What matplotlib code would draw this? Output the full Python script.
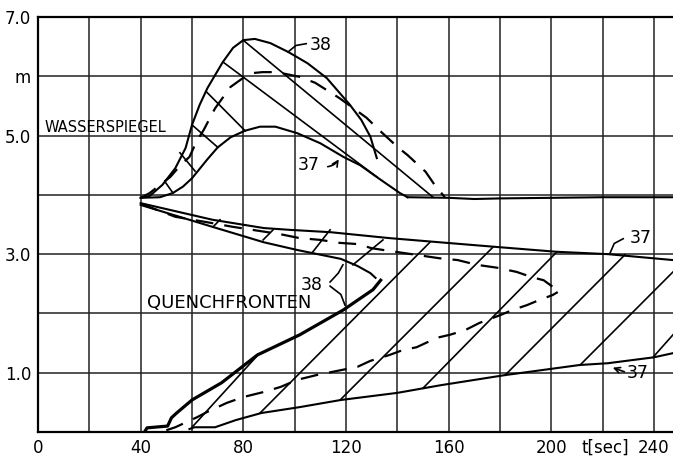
import matplotlib.pyplot as plt

# Wasserspiegel (water level) in m over t in s
t_ws38 = [40, 43.5, 48.5, 53.5, 57.5, 60, 63, 66, 69, 72, 76, 80, 84.5, 90.5, 97.5, 105, 112.5, 117.5, 121.5, 126, 129.5, 132]
h_ws38 = [3.95, 3.98, 4.17, 4.45, 4.79, 5.18, 5.52, 5.80, 6.02, 6.24, 6.48, 6.61, 6.63, 6.56, 6.41, 6.22, 5.97, 5.72, 5.52, 5.26, 4.98, 4.62]

t_ws37 = [40, 47.5, 52.5, 56.5, 60, 63, 66, 70, 75, 80.5, 86.5, 92.5, 101, 110, 119, 125.5, 132, 137, 141, 144]
h_ws37 = [3.95, 3.96, 4.03, 4.14, 4.28, 4.44, 4.60, 4.80, 4.97, 5.08, 5.15, 5.15, 5.04, 4.87, 4.64, 4.50, 4.30, 4.15, 4.03, 3.96]

t_ws_end = [144, 160, 170, 180, 200, 220, 247.4]
h_ws_end = [3.96, 3.95, 3.93, 3.94, 3.95, 3.96, 3.96]

t_ws_d = [40, 43.5, 48.5, 51.5, 55.5, 59, 62, 64.5, 68, 69, 73.5, 75, 80.5, 82.5, 87.5, 93, 102, 108, 117.5, 128, 133, 140, 144, 151, 154.5, 158.5]
h_ws_d = [3.95, 4.03, 4.20, 4.30, 4.50, 4.64, 4.92, 5.09, 5.38, 5.46, 5.73, 5.82, 5.99, 6.05, 6.07, 6.07, 5.99, 5.89, 5.63, 5.30, 5.09, 4.81, 4.67, 4.39, 4.17, 3.96]

# Quenchfronten: upper (falling) fronts
t_qo37 = [40, 68, 88, 98, 114, 137, 156.5, 179, 202, 222, 247.4]
h_qo37 = [3.86, 3.58, 3.44, 3.41, 3.37, 3.27, 3.20, 3.12, 3.04, 3.00, 2.90]

t_qo38 = [40, 68, 88, 101, 118, 124.5, 129.5, 131.5]
h_qo38 = [3.83, 3.46, 3.20, 3.07, 2.92, 2.80, 2.68, 2.60]

t_qo_d = [40, 53.5, 67, 76, 83.5, 94, 102, 110, 117.5, 124.5, 130, 134.5, 156.5, 163.5, 171, 179, 186.5, 192.5, 197, 200.5, 202.5]
h_qo_d = [3.85, 3.63, 3.53, 3.46, 3.41, 3.34, 3.27, 3.24, 3.19, 3.17, 3.10, 3.07, 2.93, 2.90, 2.82, 2.77, 2.70, 2.61, 2.56, 2.45, 2.36]

# lower (rising) fronts
t_qu38 = [41.5, 42.5, 50.5, 52, 54, 60, 71.5, 85.5, 102, 119, 130.5, 133.5]
h_qu38 = [0.00, 0.07, 0.10, 0.24, 0.32, 0.54, 0.83, 1.30, 1.64, 2.06, 2.40, 2.56]

t_qu37 = [59, 61, 69, 77, 87, 102, 118, 140, 157, 182, 211, 222, 240, 247.4]
h_qu37 = [0.05, 0.08, 0.08, 0.20, 0.32, 0.42, 0.54, 0.66, 0.79, 0.96, 1.13, 1.16, 1.26, 1.33]

t_qu_d = [50, 53.5, 62, 66, 73.5, 80, 87.5, 94.5, 101, 108.5, 124.5, 129.5, 137, 142, 147.5, 155.5, 160.5, 166.5, 172, 180, 185, 190.5, 195.5, 200.5, 202.5]
h_qu_d = [0.03, 0.08, 0.25, 0.34, 0.49, 0.59, 0.67, 0.76, 0.88, 0.96, 1.10, 1.20, 1.30, 1.38, 1.43, 1.59, 1.64, 1.72, 1.84, 1.97, 2.06, 2.14, 2.23, 2.31, 2.36]

# hatching between curves 37 and 38 (start, end)
hatch_ws = [((49.5, 4.22), (52.6, 4.03)), ((55.3, 4.71), (61.2, 4.40)),
            ((60.0, 5.18), (70.1, 4.80)), ((65.8, 5.73), (80.7, 5.08)),
            ((72.1, 6.24), (132.1, 4.30)), ((79.9, 6.61), (153.9, 3.96))]
hatch_qo = [((68.2, 3.46), (70.9, 3.58)), ((87.7, 3.24), (91.6, 3.41)),
            ((107.1, 3.04), (113.8, 3.41)), ((122.7, 2.82), (134.4, 3.24))]
hatch_qu = [((60.0, 0.08), (85.7, 1.30)), ((86.5, 0.32), (152.7, 3.20)),
            ((117.7, 0.54), (177.3, 3.12)), ((150.0, 0.74), (202.2, 3.04)),
            ((182.0, 0.96), (228.7, 2.99)), ((211.2, 1.13), (247.4, 2.70)),
            ((239.6, 1.26), (247.4, 1.64))]

x_ticks = list(range(0, 241, 20))
x_labels = [str(v) if v % 40 == 0 else '' for v in x_ticks]
y_ticks = [0, 1, 2, 3, 4, 5, 6, 7]
y_labels = ['', '1.0', '', '3.0', '', '5.0', 'm', '7.0']

fig = plt.figure(figsize=(6.73, 4.61), dpi=100)
ax = fig.add_axes([38 / 673, 29 / 461, 635 / 673, 415 / 461])

k = 'black'
ax.plot(t_ws38, h_ws38, color=k, lw=1.5)
ax.plot(t_ws37, h_ws37, color=k, lw=1.5)
ax.plot(t_ws_end, h_ws_end, color=k, lw=1.5)
ax.plot(t_ws_d, h_ws_d, color=k, lw=1.6, dashes=(8, 5))

ax.plot(t_qo37, h_qo37, color=k, lw=1.5)
ax.plot(t_qo38, h_qo38, color=k, lw=1.5)
ax.plot(t_qo_d, h_qo_d, color=k, lw=1.6, dashes=(8, 5))
ax.plot(t_qu38, h_qu38, color=k, lw=2.3)
ax.plot(t_qu37, h_qu37, color=k, lw=1.5)
ax.plot(t_qu_d, h_qu_d, color=k, lw=1.6, dashes=(8, 5))

for (a, b) in hatch_ws + hatch_qo + hatch_qu:
    ax.plot([a[0], b[0]], [a[1], b[1]], color=k, lw=1.2)

# labels
ax.text(2.7, 5.14, 'WASSERSPIEGEL', fontsize=10.5, va='center', ha='left')
ax.text(42.5, 2.18, 'QUENCHFRONTEN', fontsize=13, va='center', ha='left')
ax.text(110, 6.53, '38', fontsize=12.5, va='center', ha='center')
ax.plot([97.4, 100.5, 104.5], [6.41, 6.52, 6.55], color=k, lw=1.2)
ax.text(105.5, 4.50, '37', fontsize=12.5, va='center', ha='center')
ax.annotate('', xy=(117.7, 4.64), xytext=(111.8, 4.47),
            arrowprops=dict(arrowstyle='->', color=k, lw=1.2, connectionstyle='arc3,rad=0.3'))
ax.text(106.8, 2.48, '38', fontsize=12.5, va='center', ha='center')
ax.plot([113.8, 117.0, 118.8], [2.53, 2.68, 2.82], color=k, lw=1.2)
ax.plot([113.8, 118.0, 119.6], [2.46, 2.32, 2.14], color=k, lw=1.2)
ax.text(235, 3.28, '37', fontsize=12.5, va='center', ha='center')
ax.plot([222.9, 224.5, 228.0], [3.02, 3.18, 3.26], color=k, lw=1.2)
ax.text(233.5, 1.00, '37', fontsize=12.5, va='center', ha='center')
ax.annotate('', xy=(222.9, 1.10), xytext=(229.5, 1.00),
            arrowprops=dict(arrowstyle='->', color=k, lw=1.2))
ax.text(221, -0.26, 't[sec]', fontsize=12, va='center', ha='center')

ax.set_xlim(0, 247.4)
ax.set_ylim(0, 7)
ax.set_xticks(x_ticks)
ax.set_xticklabels(x_labels, fontsize=12)
ax.set_yticks(y_ticks)
ax.set_yticklabels(y_labels, fontsize=12)
ax.tick_params(length=0, pad=5)
ax.grid(True, color='#222222', lw=1.1)
ax.set_axisbelow(True)
for side in ['left', 'top', 'bottom']:
    ax.spines[side].set_linewidth(1.6)
ax.spines['right'].set_visible(False)

fig.savefig('out.png', dpi=100)
